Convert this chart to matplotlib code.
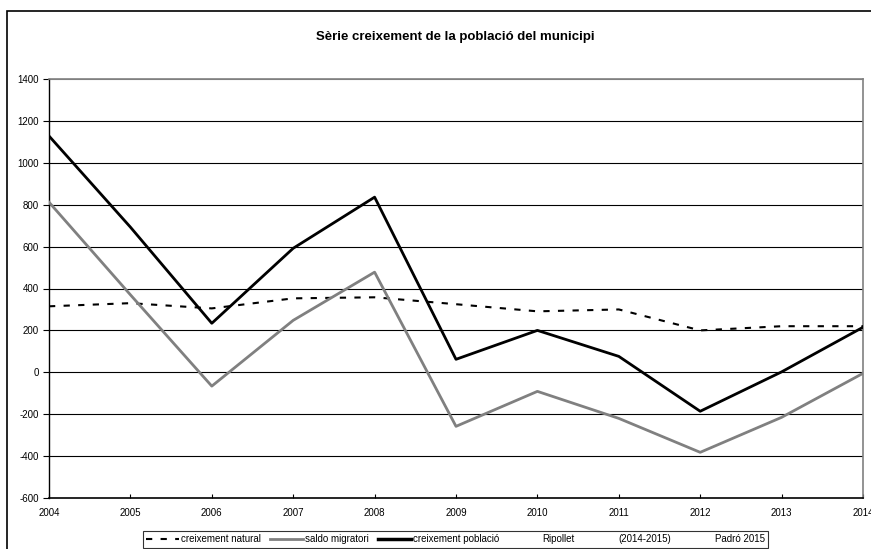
import numpy as np
import matplotlib
matplotlib.use('Agg')
import matplotlib.pyplot as plt
from matplotlib.lines import Line2D
from matplotlib.patches import Rectangle

plt.rcParams['font.family'] = ['Liberation Sans', 'DejaVu Sans']
plt.rcParams['axes.unicode_minus'] = False

anys = [2004, 2005, 2006, 2007, 2008, 2009, 2010, 2011, 2012, 2013, 2014]
natural = [315, 330, 305, 353, 358, 325, 291, 300, 200, 220, 220]
migratori = [812, 370, -66, 248, 478, -258, -91, -220, -382, -215, -5]
poblacio = [1128, 693, 234, 592, 836, 62, 200, 76, -186, 2, 215]

fig = plt.figure(figsize=(8.71, 5.49), dpi=100)
# marc exterior del grafic
fig.patches.append(Rectangle((7/871, -0.1), 2, 1.1 - 11/549, transform=fig.transFigure,
                             fill=False, edgecolor='black', lw=1.2))

ax = fig.add_axes([49/871, 51/549, (863-49)/871, (498-79)/549])

for v in range(-400, 1401, 200):
    ax.axhline(v, color='black' if v < 1400 else '#808080', lw=0.8, zorder=1)

ax.plot(anys, natural, color='black', lw=1.5, ls=(0, (3, 4)), zorder=3)
ax.plot(anys, migratori, color='#808080', lw=2, zorder=3)
ax.plot(anys, poblacio, color='black', lw=2, zorder=4)

ax.set_xlim(2004, 2014)
ax.set_ylim(-600, 1400)
ax.set_xticks(anys)
ax.set_yticks(range(-600, 1401, 200))
ax.tick_params(axis='y', direction='out', length=4, labelsize=7, width=0.8)
ax.tick_params(axis='x', direction='in', length=3, labelsize=7, width=0.8, pad=7)

for s in ['top', 'right']:
    ax.spines[s].set_color('#808080')
    ax.spines[s].set_linewidth(1.2)
ax.spines['left'].set_linewidth(1)
ax.spines['bottom'].set_linewidth(1.2)

fig.text(455/871, 1 - 37/549, 'Sèrie creixement de la població del municipi',
         ha='center', va='center', fontsize=9.5, fontweight='bold')

handles = [Line2D([], [], color='black', lw=1.5, ls=(0, (3, 4))),
           Line2D([], [], color='#808080', lw=2),
           Line2D([], [], color='black', lw=2.5),
           Line2D([], [], color='none'),
           Line2D([], [], color='none'),
           Line2D([], [], color='none')]
labels = ['creixement natural', 'saldo migratori', 'creixement població',
          'Ripollet', '(2014-2015)', 'Padró 2015']
leg = fig.legend(handles, labels, loc='upper left', bbox_to_anchor=(143/871, 1 - 531/549),
                 ncol=6, fontsize=7, frameon=True, fancybox=False, edgecolor='black',
                 handlelength=3.4, handletextpad=0.2, columnspacing=0.9,
                 borderpad=0.35, borderaxespad=0)
leg.get_frame().set_linewidth(0.8)

fig.savefig('out.png', dpi=100)
